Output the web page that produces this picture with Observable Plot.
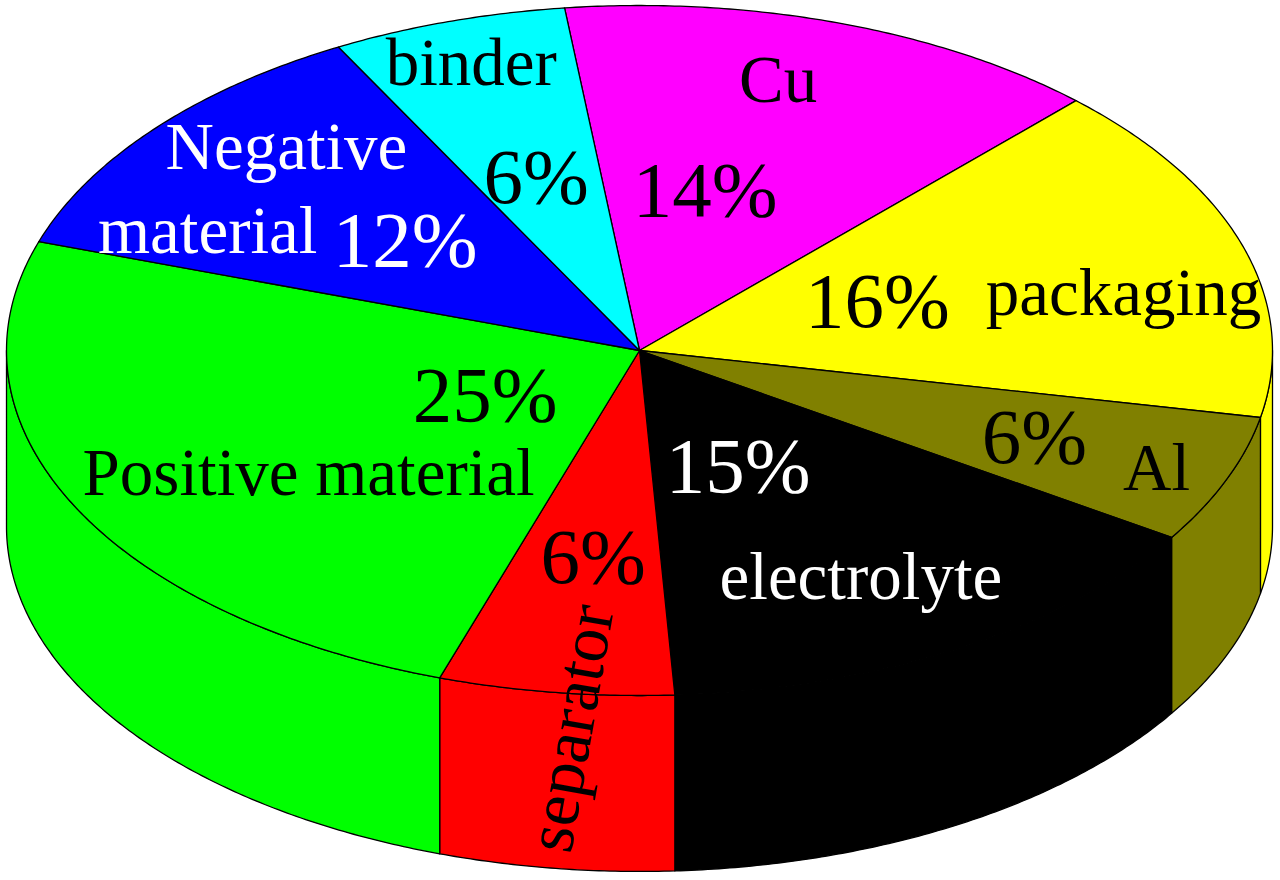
<!DOCTYPE html>
<html>
<head>
<meta charset="utf-8">
<script src="https://cdn.jsdelivr.net/npm/d3@7"></script>
<script src="https://cdn.jsdelivr.net/npm/@observablehq/plot@0.6"></script>
<style>
html,body{margin:0;padding:0;background:#fff;overflow:hidden}
svg{display:block;filter:blur(0.6px)}
</style>
</head>
<body>
<div id="chart"></div>
<script>
// Slices clockwise, beginning with Cu
const slices = ["Cu","packaging","Al","electrolyte","separator","Positive material","Negative material","binder"];
const shares = [14,16,6,15,6,25,12,6];
const colors = ["#ff00ff","#ffff00","#808000","#000000","#ff0000","#00ff00","#0000ff","#00ffff"];
const whiteText = ["electrolyte","Negative material"];

// Label placement: f = fraction across the slice, r = fraction of the radius
const valueSpots = [[.385,.475],[.45,.401],[.50,.673],[.60,.372],[.47,.604],[.48,.277],[.515,.488],[.48,.528]];
const nameLines = [
  {slice:"Cu",text:"Cu",f:.445,r:.813},
  {slice:"packaging",text:"packaging",f:.595,r:.782},
  {slice:"Al",text:"Al",f:.53,r:.885},
  {slice:"electrolyte",text:"electrolyte",f:.54,r:.744},
  {slice:"Positive material",text:"Positive material",f:.414,r:.633},
  {slice:"Negative material",text:"Negative",f:.65,r:.81},
  {slice:"Negative material",text:"material",f:.197,r:.765},
  {slice:"binder",text:"binder",f:.495,r:.874}
];
const rotatedLines = [{slice:"separator",text:"separator",f:.41,r:1.1}];

const startAngle = -6.8;   // degrees clockwise from the top
const wallDepth = 0.51;    // in radii of the vertical axis

const total = d3.sum(shares);
let acc = startAngle;
const arcs = slices.map((name,i) => {
  const a0 = acc, a1 = acc + shares[i]/total*360;
  acc = a1;
  return {name, a0, a1};
});
const rad = a => a*Math.PI/180;
const px = (a,r=1) => r*Math.sin(rad(a));
const py = (a,r=1) => r*Math.cos(rad(a));
const sweep = (a0,a1) => {
  const n = Math.max(1,Math.ceil((a1-a0)/0.5));
  return d3.range(n+1).map(k => a0+(a1-a0)*k/n);
};

const tops = arcs.flatMap(s => {
  const pts = sweep(s.a0,s.a1).map(a => ({name:s.name,x:px(a),y:py(a)}));
  const c = {name:s.name,x:0,y:0};
  return [c,...pts,c];
});
const walls = arcs.flatMap(s => {
  const a0 = Math.max(s.a0,90), a1 = Math.min(s.a1,270);
  if (a1 <= a0) return [];
  const as = sweep(a0,a1);
  const upper = as.map(a => ({name:s.name,x:px(a),y:py(a)}));
  const lower = as.slice().reverse().map(a => ({name:s.name,x:px(a),y:py(a)-wallDepth}));
  return [...upper,...lower,upper[0]];
});

const place = (s,f,r) => {
  const a = s.a0+(s.a1-s.a0)*f;
  return {x:px(a,r),y:py(a,r)};
};
const arcOf = name => arcs.find(s => s.name===name);
const valueLabels = arcs.map((s,i) => ({
  slice:s.name,text:shares[i]+"%",...place(s,valueSpots[i][0],valueSpots[i][1])
}));
const nameLabels = nameLines.map(d => ({...d,...place(arcOf(d.slice),d.f,d.r)}));
const rotatedLabels = rotatedLines.map(d => ({...d,...place(arcOf(d.slice),d.f,d.r)}));
const light = d => whiteText.includes(d.slice);
const dark = d => !light(d);

const textOpts = {x:"x",y:"y",text:"text",fontFamily:"Liberation Serif",textAnchor:"middle",lineAnchor:"middle"};

const chart = Plot.plot({
  width:1280,height:880,
  marginTop:0,marginRight:0,marginBottom:0,marginLeft:0,
  style:{background:"#fff"},
  x:{domain:[-1,1],range:[6,1272],axis:null},
  y:{domain:[-1,1],range:[695,5],axis:null},
  color:{domain:slices,range:colors},
  marks:[
    Plot.line(walls,{x:"x",y:"y",z:"name",fill:"name",stroke:"#000",strokeWidth:1.3}),
    Plot.line(tops,{x:"x",y:"y",z:"name",fill:"name",stroke:"#000",strokeWidth:1.3}),
    Plot.text(valueLabels,{...textOpts,filter:dark,fontSize:79,fill:"#000"}),
    Plot.text(valueLabels,{...textOpts,filter:light,fontSize:79,fill:"#fff"}),
    Plot.text(nameLabels,{...textOpts,filter:dark,fontSize:67,fill:"#000"}),
    Plot.text(nameLabels,{...textOpts,filter:light,fontSize:67,fill:"#fff"}),
    Plot.text(rotatedLabels,{...textOpts,fontSize:68,rotate:-80,fill:"#000"})
  ]
});
document.getElementById("chart").append(chart);
</script>
</body>
</html>
